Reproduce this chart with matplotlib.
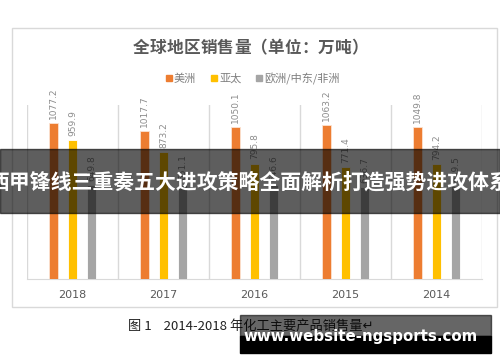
import matplotlib
matplotlib.use("Agg")
import matplotlib.pyplot as plt
from matplotlib.patches import Rectangle
import numpy as np

plt.rcParams['font.family'] = ['Noto Sans CJK SC', 'DejaVu Sans']

years = ["2018", "2017", "2016", "2015", "2014"]
series_names = ["美洲", "亚太", "欧洲/中东/非洲"]
americas = [1077.2, 1017.7, 1050.1, 1063.2, 1049.8]
apac = [959.9, 873.2, 795.8, 771.4, 794.2]
emea = [649.8, 651.1, 646.6, 636.7, 639.5]
colors = ["#ED7D31", "#FFC000", "#A5A5A5"]

title = "全球地区销售量（单位：万吨）"
banner = "西甲锋线三重奏五大进攻策略全面解析打造强势进攻体系"
caption = "图 1    2014-2018 年化工主要产品销售量↵"
watermark = "www.website-ngsports.com"

W, H = 500, 362
fig = plt.figure(figsize=(W / 100, H / 100), dpi=100)

def fx(px):
    return px / W

def fy(py):
    return 1 - py / H

# outer chart border
fig.patches.append(Rectangle((fx(12), fy(307)), fx(485), (307 - 28) / H,
                             transform=fig.transFigure, fill=False,
                             edgecolor="#D9D9D9", linewidth=1.0))

ax = fig.add_axes([fx(27), fy(279), fx(455), (279 - 105) / H])
x = np.arange(len(years))
offsets = [-0.209, 0.0, 0.209]
bw = 0.105
for vals, off, c in zip([americas, apac, emea], offsets, colors):
    ax.bar(x + off, vals, width=bw, color=c,
           edgecolor="#FBE3D2" if c == "#ED7D31" else "white",
           linewidth=0.6, zorder=3)
    for xi, v in zip(x + off, vals):
        ax.annotate(f"{v:.1f}", (xi, v), xytext=(0, 3), textcoords="offset points",
                    rotation=90, ha="center", va="bottom", fontsize=6.5,
                    color="#8C8C8C", family="DejaVu Sans")

ax.set_xlim(-0.5, len(years) - 0.5)
ax.set_ylim(0, 1200)
for b in np.arange(-0.5, len(years), 1.0):
    ax.axvline(b, color="#D9D9D9", linewidth=1.0, zorder=1)
for s in ["top", "left", "right"]:
    ax.spines[s].set_visible(False)
ax.spines["bottom"].set_color("#D9D9D9")
ax.set_yticks([])
ax.set_xticks(x)
ax.set_xticklabels(years, fontsize=8, color="#595959", family="DejaVu Sans")
ax.tick_params(axis="x", length=0, pad=8)
ax.set_facecolor("none")

# title, letter-spaced
step = 16.8
start = 133 + step / 2
for i, ch in enumerate(title):
    fig.text(fx(start + i * step), fy(48), ch, ha="center", va="center",
             fontsize=12, fontweight="bold", color="#595959")

# legend
leg_items = [(169, series_names[0]), (214, series_names[1]), (259, series_names[2])]
for (px, name), c in zip(leg_items, colors):
    fig.patches.append(Rectangle((fx(px - 3), fy(81)), fx(6), 6 / H,
                                 transform=fig.transFigure, color=c))
    fig.text(fx(px + 5), fy(78.5), name, ha="left", va="center", fontsize=8,
             color="#7F7F7F")

# banner overlay
fig.patches.append(Rectangle((0, fy(213)), 1, (213 - 149) / H,
                             transform=fig.transFigure, color="black", alpha=0.63,
                             zorder=10))
fig.text(0.5, fy(182), banner, ha="center", va="center", fontsize=15,
         fontweight="bold", color="white", zorder=11)

# caption
fig.text(fx(128), fy(326), caption, ha="left", va="center", fontsize=9.5,
         color="#222222")

# watermark
fig.patches.append(Rectangle((fx(240), fy(336)), fx(251), (336 - 315) / H,
                             transform=fig.transFigure, color="black", alpha=0.6,
                             zorder=10))
fig.patches.append(Rectangle((fx(240), fy(353)), fx(251), (353 - 336) / H,
                             transform=fig.transFigure, color="black", zorder=10))
fig.text(fx(361), fy(337), watermark, ha="center", va="center", fontsize=10.8,
         fontweight="bold", color="white", family="DejaVu Sans", zorder=11)

fig.savefig("out.png", dpi=100)
